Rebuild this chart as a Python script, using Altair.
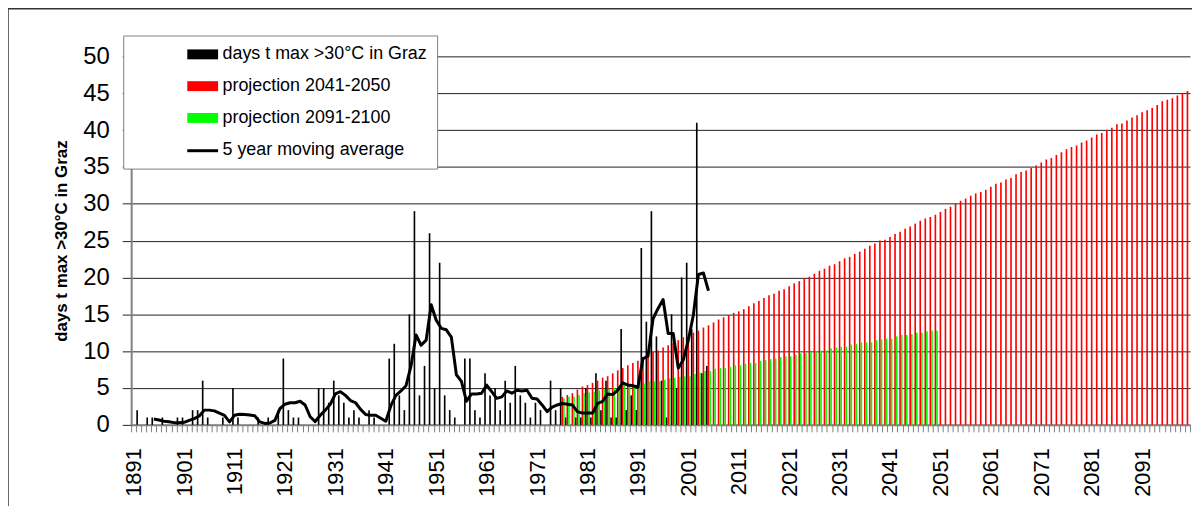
import altair as alt
import pandas as pd

# ---------------- data ----------------
obs_years = list(range(1891, 2006))
obs_days = [
    0, 2, 0, 1, 1, 0, 1, 0, 0, 1,        # 1891-1900
    1, 0, 2, 2, 6, 1, 0, 0, 1, 0,        # 1901-1910
    5, 1, 0, 0, 0, 1, 0, 1, 0, 2,        # 1911-1920
    9, 2, 1, 1, 0, 0, 0, 5, 5, 3,        # 1921-1930
    6, 4, 3, 1, 2, 1, 0, 2, 1, 0,        # 1931-1940
    0, 9, 11, 4, 2, 15, 29, 4, 8, 26,    # 1941-1950
    5, 22, 4, 2, 1, 0, 9, 9, 2, 1,       # 1951-1960
    7, 4, 5, 2, 6, 3, 8, 4, 3, 1,        # 1961-1970
    3, 2, 0, 6, 2, 5, 1, 0, 1, 1,        # 1971-1980
    5, 1, 7, 2, 6, 1, 1, 13, 2, 4,       # 1981-1990
    2, 24, 14, 29, 12, 6, 1, 15, 5, 20,  # 1991-2000
    22, 13, 41, 7, 8,                    # 2001-2005
]

ma_years = list(range(1895, 2006))
ma_values = [
    0.8, 0.65, 0.5, 0.42, 0.3, 0.3,                              # 1895-1900
    0.35, 0.6, 0.85, 1.2, 2.0, 2.0, 1.9, 1.6, 1.3, 0.4,          # 1901-1910
    1.3, 1.45, 1.4, 1.35, 1.25, 0.4, 0.2, 0.25, 0.6, 2.2,        # 1911-1920
    2.8, 3.0, 3.0, 3.2, 2.7, 1.1, 0.45, 1.3, 2.0, 2.8,           # 1921-1930
    4.2, 4.5, 4.0, 3.3, 3.0, 2.1, 1.4, 1.3, 1.3, 0.9,            # 1931-1940
    0.5, 2.6, 4.0, 4.6, 5.3, 8.0, 12.2, 10.8, 11.5, 16.3,        # 1941-1950
    14.2, 13.1, 12.9, 11.9, 6.8, 5.9, 3.2, 4.2, 4.2, 4.3,        # 1951-1960
    5.4, 4.5, 3.6, 3.8, 4.6, 4.3, 4.7, 4.6, 4.7, 3.6,            # 1961-1970
    3.5, 2.7, 1.8, 2.4, 2.7, 2.9, 2.8, 2.7, 1.8, 1.6,            # 1971-1980
    1.6, 1.6, 2.9, 3.2, 4.2, 4.1, 4.7, 5.7, 5.4, 5.3,            # 1981-1990
    5.1, 9.0, 9.3, 14.4, 15.8, 17.0, 12.4, 12.4, 7.7, 8.8,       # 1991-2000
    11.5, 14.9, 20.4, 20.6, 18.2,                                # 2001-2005
]

red_years = list(range(1976, 2101))
red_values = [
    3.8, 4.05, 4.3, 4.8, 5.2, 5.4, 5.7, 6.0, 6.4, 6.6,
    7.0, 7.4, 7.7, 8.1, 8.4, 8.7, 9.1, 9.5, 9.9, 10.1,
    10.5, 10.8, 11.1, 11.5, 11.9, 12.2, 12.5, 12.8, 13.2, 13.5,
    13.9, 14.3, 14.6, 14.9, 15.2,
    15.4, 15.7, 16.1, 16.5, 16.8, 17.2, 17.6, 17.8, 18.2, 18.4,
    18.8, 19.2, 19.5, 19.9, 20.1, 20.5, 20.9, 21.2, 21.6, 21.8,
    22.2, 22.6, 22.8, 23.2, 23.5, 23.9, 24.3, 24.6, 25.0, 25.1,
    25.5, 25.9, 26.2, 26.6, 26.9, 27.3, 27.7, 28.0, 28.2, 28.5,
    28.9, 29.3, 29.6, 30.0, 30.4, 30.7, 31.1, 31.4, 31.6, 31.9,
    32.3, 32.7,
    32.9, 33.3, 33.5, 34.0, 34.3, 34.5, 34.9, 35.2, 35.6, 36.0,
    36.2, 36.6, 37.0, 37.4, 37.7, 37.9, 38.3, 38.6, 39.0, 39.4,
    39.6, 40.0, 40.3, 40.8, 40.9, 41.3, 41.7, 42.0, 42.4, 42.7,
    43.0, 43.4, 43.9, 44.1, 44.3, 44.7, 45.0, 45.3,
]

green_years = list(range(1976, 2051))
green_values = [
    3.6, 3.8, 3.8, 4.05, 4.3, 4.4, 4.5, 4.7, 4.8, 4.9,
    5.0, 5.3, 5.4, 5.4, 5.4, 5.5, 5.6, 5.9, 5.9, 5.9,
    6.1, 6.3, 6.4, 6.5, 6.6, 6.6, 6.9,
    7.1, 7.3, 7.3, 7.6, 7.7, 7.7, 7.9, 8.1, 8.1, 8.3,
    8.4, 8.4, 8.7, 8.8, 8.9, 9.0, 9.2, 9.3, 9.3, 9.5,
    9.7, 9.7, 9.9, 10.0, 10.1, 10.1, 10.4, 10.5, 10.6, 10.6,
    10.9, 11.0, 11.2, 11.2, 11.2, 11.5, 11.6, 11.7, 11.7, 12.0,
    12.2, 12.2, 12.3, 12.5, 12.5, 12.7, 12.8, 12.8,
]

all_years = list(range(1891, 2101))
series_names = [
    "days t max >30°C in Graz",
    "projection 2041-2050",
    "projection 2091-2100",
    "5 year moving average",
]
fill_colors = ["#000000", "#ff0000", "#00ff00", "transparent"]
ma_key = ["k_ma"]

# ---------------- tables ----------------
bar_df = pd.concat([
    pd.DataFrame({"year": obs_years, "value": obs_days, "series": series_names[0]}),
    pd.DataFrame({"year": red_years, "value": red_values, "series": series_names[1]}),
    pd.DataFrame({"year": green_years, "value": green_values, "series": series_names[2]}),
], ignore_index=True)
ma_df = pd.DataFrame({"year": ma_years, "value": ma_values, "key": ma_key[0]})
one_row = pd.DataFrame({"k": [0]})

FONT = "Liberation Sans"
RECT = "M-3.1,-1H3.1V1H-3.1Z"
STROKE = "M-3.1,0H3.1"

PLOT_W, PLOT_H = 1066, 371

x_scale = alt.Scale(domain=all_years, paddingInner=0.03, paddingOuter=0.02)
x_axis = alt.Axis(
    title=None,
    labelExpr="(datum.value - 1891) % 10 == 0 ? datum.label : ''",
    labelOverlap=False,
    labelAngle=270,
    labelAlign="right",
    labelBaseline="middle",
    labelFont=FONT,
    labelFontSize=22,
    labelColor="#000000",
    labelPadding=16,
    tickBand="extent",
    tickSize=7,
    tickColor="#808080",
    tickWidth=1,
    domainColor="#808080",
    domainWidth=2,
    grid=False,
)
y_axis = alt.Axis(
    title="days t max >30°C in Graz",
    titleFont=FONT,
    titleFontSize=17,
    titleFontWeight="bold",
    titleColor="#000000",
    titlePadding=12,
    values=list(range(0, 51, 5)),
    labelOverlap=False,
    labelFont=FONT,
    labelFontSize=24,
    labelColor="#000000",
    labelPadding=13,
    tickSize=9,
    tickColor="#222222",
    domainColor="#808080",
    domainWidth=2,
    grid=True,
    gridColor="#222222",
    gridWidth=1,
)
y_scale = alt.Scale(domain=[0, 50])

fill_legend = alt.Legend(
    title=None,
    orient="none",
    legendX=-8,
    legendY=-21,
    direction="vertical",
    padding=10,
    symbolType=RECT,
    symbolSize=100,
    symbolStrokeWidth=0,
    symbolOffset=61,
    labelFont=FONT,
    labelFontSize=18,
    labelColor="#000000",
    labelOffset=11,
    labelLimit=400,
    rowPadding=14,
    strokeColor="#808080",
    fillColor="#ffffff",
)
line_legend = alt.Legend(
    title=None,
    orient="none",
    legendX=0,
    legendY=86,
    direction="vertical",
    padding=0,
    symbolType=STROKE,
    symbolSize=100,
    symbolStrokeWidth=3,
    symbolOffset=63,
    labelExpr="''",
    labelFontSize=18,
    strokeColor="transparent",
    fillColor="transparent",
)

bars = alt.Chart(bar_df).mark_bar(strokeWidth=0).encode(
    x=alt.X("year:O", scale=x_scale, axis=x_axis),
    xOffset=alt.XOffset(
        "series:N",
        scale=alt.Scale(domain=series_names[:3], paddingInner=0, paddingOuter=0),
    ),
    y=alt.Y("value:Q", scale=y_scale, axis=y_axis, stack=False),
    fill=alt.Fill(
        "series:N",
        scale=alt.Scale(domain=series_names, range=fill_colors),
        legend=fill_legend,
    ),
)

ma_line = alt.Chart(ma_df).mark_line(strokeWidth=3, strokeJoin="round").encode(
    x=alt.X("year:O", scale=x_scale, axis=x_axis),
    y=alt.Y("value:Q", scale=y_scale, axis=y_axis),
    stroke=alt.Stroke(
        "key:N",
        scale=alt.Scale(domain=ma_key, range=["#000000"]),
        legend=line_legend,
    ),
)

# chart-area frame (top and left edges visible in the reference)
frame_top = alt.Chart(one_row).mark_rule(color="#333333", strokeWidth=1.5).encode(
    x=alt.value(-124), x2=alt.value(PLOT_W + 10), y=alt.value(-48)
)
frame_left = alt.Chart(one_row).mark_rule(color="#333333", strokeWidth=1.5).encode(
    x=alt.value(-124), y=alt.value(-48), y2=alt.value(PLOT_H + 90)
)

chart = (
    alt.layer(bars, ma_line, frame_top, frame_left)
    .properties(
        width=PLOT_W,
        height=PLOT_H,
        padding={"left": 124, "top": 47, "right": 2, "bottom": 80},
        autosize=alt.AutoSizeParams(type="none"),
    )
    .configure_view(strokeWidth=0)
)

chart.save("out.html", embed_options={"renderer": "svg", "actions": False})
